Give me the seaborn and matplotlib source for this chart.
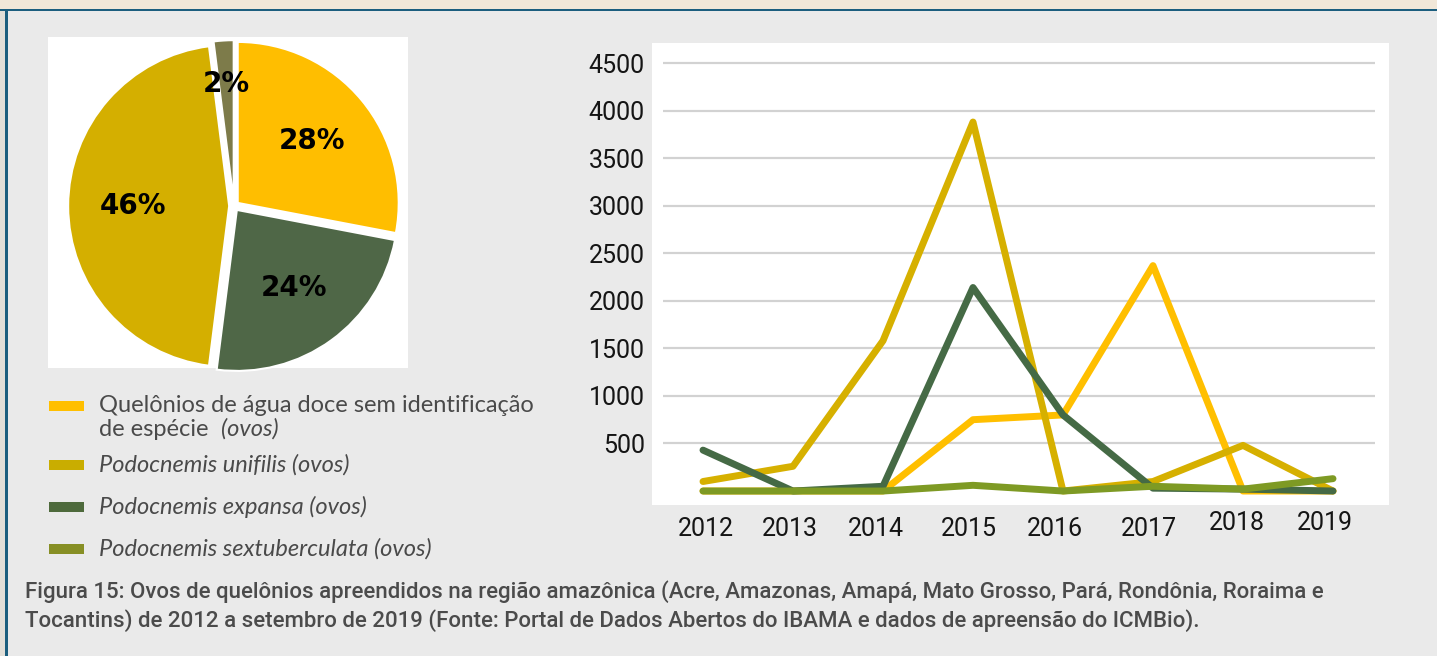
import matplotlib
matplotlib.use("Agg")
import matplotlib.pyplot as plt
from matplotlib.patches import Rectangle
from matplotlib.transforms import ScaledTranslation
import numpy as np
import pandas as pd
import seaborn as sns

# ---- data ----
years = [2012, 2013, 2014, 2015, 2016, 2017, 2018, 2019]
sem_identificacao = [0, 0, 0, 750, 800, 2370, 0, 0]
unifilis = [100, 260, 1580, 3880, 0, 100, 480, 0]
expansa = [430, 0, 50, 2140, 800, 30, 20, 0]
sextuberculata = [0, 0, 0, 60, 0, 50, 20, 130]

series_names = [
    "Quelônios de água doce sem identificação de espécie (ovos)",
    "Podocnemis unifilis (ovos)",
    "Podocnemis expansa (ovos)",
    "Podocnemis sextuberculata (ovos)",
]
series_values = [sem_identificacao, unifilis, expansa, sextuberculata]
line_colors = ["#FFBF00", "#D6B000", "#456A45", "#7E9A24"]
legend_colors = ["#FFBF00", "#C9AD00", "#4E6A3C", "#878F25"]

# pie, clockwise from 12 o'clock
pie_share = [28, 24, 46, 2]
pie_colors = ["#FFBE00", "#4F6747", "#D4AF00", "#7D7B4A"]

# legend labels: (regular part, italic part) per line
legend_lines = [
    [("Quelônios de água doce sem identificação", ""), ("de espécie  ", "(ovos)")],
    [("", "Podocnemis unifilis (ovos)")],
    [("", "Podocnemis expansa (ovos)")],
    [("", "Podocnemis sextuberculata (ovos)")],
]

yticks = [500, 1000, 1500, 2000, 2500, 3000, 3500, 4000, 4500]

caption_1 = ("Figura 15: Ovos de quelônios apreendidos na região amazônica (Acre, Amazonas, "
             "Amapá, Mato Grosso, Pará, Rondônia, Roraima e")
caption_2 = ("Tocantins) de 2012 a setembro de 2019 (Fonte: Portal de Dados Abertos do IBAMA "
             "e dados de apreensão do ICMBio).")

W, H = 1437, 656
BG = "#EAEAEA"

sns.set_style("white")
plt.rcParams["font.family"] = ["Roboto", "DejaVu Sans"]

fig = plt.figure(figsize=(W / 100, H / 100), dpi=100, facecolor=BG)


def box(x0, y0, x1, y1):
    """pixel box (top-left origin) -> figure rect [l, b, w, h]"""
    return [x0 / W, 1 - y1 / H, (x1 - x0) / W, (y1 - y0) / H]


def add_rect(x0, y0, x1, y1, color, z=0):
    fig.add_artist(Rectangle((x0 / W, 1 - y1 / H), (x1 - x0) / W, (y1 - y0) / H,
                             transform=fig.transFigure, facecolor=color,
                             edgecolor="none", zorder=z))


# page frame
add_rect(0, 0, W, 8.5, "#F1E7D8", z=-5)
add_rect(0, 8.5, 5, H, "#E2DFD8", z=-5)
add_rect(0, 8.5, W, 11, "#1C5E7E", z=-4)
add_rect(5, 8.5, 7.5, H, "#1C5E7E", z=-4)

# ---- pie ----
cx, cy, r = 234, 206, 161
pb = (48, 37, 408, 368)
ax_pie = fig.add_axes(box(*pb))
wedges, _, autotexts = ax_pie.pie(
    pie_share, colors=pie_colors, startangle=90, counterclock=False,
    explode=[0.03] * len(pie_share), autopct="%1.0f%%", pctdistance=0.6,
    wedgeprops=dict(edgecolor="white", linewidth=1.5),
    textprops=dict(fontsize=20, fontweight="bold", family="DejaVu Sans", color="black"),
)
# tiny slice label sits further out
w = wedges[-1]
mid = np.deg2rad((w.theta1 + w.theta2) / 2)
autotexts[-1].set_position((0.76 * np.cos(mid), 0.76 * np.sin(mid)))
ax_pie.set_xlim((pb[0] - cx) / r, (pb[2] - cx) / r)
ax_pie.set_ylim(-(pb[3] - cy) / r, (cy - pb[1]) / r)
ax_pie.set_frame_on(True)
ax_pie.set_facecolor("white")
for s in ax_pie.spines.values():
    s.set_visible(False)

# ---- legend ----
swatch_y = [406, 465, 507, 549]
for i, lines in enumerate(legend_lines):
    yc = swatch_y[i]
    add_rect(49, yc - 5, 84, yc + 5, legend_colors[i], z=2)
    for j, (reg, ita) in enumerate(lines):
        y = 1 - (yc + j * 23) / H
        x = 99 / W
        if reg:
            t = fig.text(x, y, reg, family="Lato", fontsize=17, color="#4A4A4A", va="center")
            fig.canvas.draw()
            bb = t.get_window_extent()
            x = bb.x1 / W
        if ita:
            fig.text(x, y, ita, family="Lato", style="italic", fontsize=17,
                     color="#4A4A4A", va="center")

# ---- line chart ----
add_rect(652, 43, 1389, 505, "white", z=-1)
ax = fig.add_axes(box(663, 43, 1375, 505))
ax.set_facecolor("white")

df = pd.DataFrame({
    "ano": np.tile(years, len(series_names)),
    "ovos": np.concatenate(series_values),
    "serie": np.repeat(series_names, len(years)),
})
sns.lineplot(data=df, x="ano", y="ovos", hue="serie", hue_order=series_names,
             palette=dict(zip(series_names, line_colors)), linewidth=5,
             legend=False, ax=ax, solid_joinstyle="round", solid_capstyle="round")

px_per_year = 90
ax.set_xlim(years[0] - 40 / px_per_year, years[-1] + 42 / px_per_year)
ax.set_ylim(-147, 4711)
ax.set_yticks(yticks)
ax.set_xticks(years)
ax.set_xticklabels([str(y) for y in years])
ax.grid(axis="y", color="#D2D2D2", linewidth=1.6)
ax.set_axisbelow(True)
ax.tick_params(axis="both", length=0, labelsize=18, labelcolor="#151515")
ax.tick_params(axis="y", pad=13)
ax.tick_params(axis="x", pad=9)
ax.set_xlabel("")
ax.set_ylabel("")
sns.despine(ax=ax, left=True, bottom=True)

# the original year labels drift a little from their points
label_shift_px = [(3, 0), (-3, 0), (-7, 0), (-4, 0), (-8, 0), (-4, 0), (-6, 6), (-8, 6)]
for lbl, (dx, dy) in zip(ax.get_xticklabels(), label_shift_px):
    lbl.set_transform(lbl.get_transform() + ScaledTranslation(dx / 100, dy / 100, fig.dpi_scale_trans))

# ---- caption ----
fig.text(25 / W, 1 - 592 / H, caption_1, fontsize=16, fontweight="medium",
         color="#4B4B4B", va="center")
fig.text(25 / W, 1 - 621 / H, caption_2, fontsize=16, fontweight="medium",
         color="#4B4B4B", va="center")

fig.savefig("out.png", dpi=100, facecolor=BG)
